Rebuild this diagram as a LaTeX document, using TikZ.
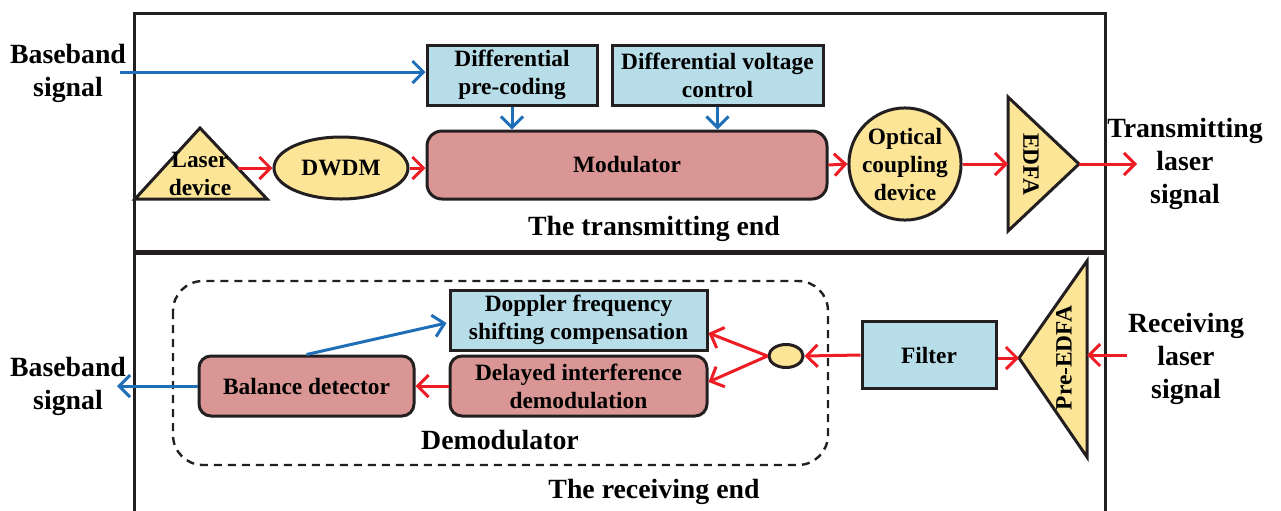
\documentclass[tikz,border=0pt]{standalone}
\usepackage{fontspec}
\setmainfont{Liberation Serif}
\usetikzlibrary{arrows.meta,calc,shapes.geometric}
\definecolor{lblue}{HTML}{B7DDE8}
\definecolor{modpink}{HTML}{D99694}
\definecolor{yel}{HTML}{FCE597}
\definecolor{ablue}{HTML}{1F6EB8}
\definecolor{ared}{HTML}{EE1C25}
\definecolor{edge}{HTML}{231F20}
\begin{document}
\begin{tikzpicture}[x=0.5pt,y=-0.5pt,
  frame/.style={draw=edge,line width=1.5pt},
  box/.style={draw=edge,line width=1.5pt,fill=lblue,inner sep=0pt,align=center,
    minimum height=30pt,font=\fontsize{11.7}{14}\selectfont\bfseries},
  rbox/.style={box,fill=modpink,rounded corners=6pt},
  ell/.style={draw=edge,line width=1.5pt,fill=yel,ellipse,inner sep=0pt,align=center,
    font=\fontsize{11.7}{14}\selectfont\bfseries},
  circ/.style={ell,circle},
  tri/.style={draw=edge,line width=1.5pt,fill=yel,line join=miter},
  txt/.style={inner sep=0pt,align=center,font=\fontsize{11.7}{14}\selectfont\bfseries},
  lbl/.style={inner sep=0pt,align=center,font=\fontsize{13.9}{16.5}\selectfont\bfseries},
  rarr/.style={draw=ared,line width=1.5pt,-{Straight Barb[length=5.5pt,width=11pt]}},
  barr/.style={draw=ablue,line width=1.5pt,-{Straight Barb[length=5.5pt,width=11pt]}},
  dashbox/.style={draw=edge,line width=1.2pt,dash pattern=on 4pt off 3pt,rounded corners=15pt}]
\useasboundingbox (0,0) rectangle (1281,510);
% frames
\draw[frame] (134,13) rectangle (1105,251);
\draw[frame] (134,520) -- (134,253) -- (1105,253) -- (1105,520);
% ---------- transmitting end ----------
\node[lbl] (bbin) at (68,73) {Baseband\\signal};
\coordinate (bbstart) at (120,72);
\node[box,minimum width=85pt] (pre) at (512,75) {Differential\\pre-coding};
\node[box,minimum width=105.5pt] (volt) at (717.5,75) {Differential voltage\\control};
\node[rbox,rounded corners=7.5pt,minimum width=200pt,minimum height=34pt] (mod) at (627,165) {Modulator};
\draw[tri] (135,199) -- (200,128) -- (267,199) -- cycle;
\node[txt] (laser) at (200,174) {Laser\\device};
\coordinate (laserout) at (238,168);
\node[ell,minimum width=67pt,minimum height=31pt] (dwdm) at (341,168) {DWDM};
\node[circ,minimum size=50.5pt] (occ) at (905,164) {Optical\\coupling\\device};
\draw[tri] (1008,97) -- (1079,164) -- (1008,231) -- cycle;
\node[txt,rotate=-90] (edfa) at (1031,164) {EDFA};
\coordinate (edfain) at (1008,164);
\coordinate (edfaout) at (1079,164);
\coordinate (txend) at (1137,164);
\node[lbl] (txsig) at (1185,164) {Transmitting\\laser\\signal};
\node[lbl] (txlabel) at (654,229) {The transmitting end};
\draw[barr] (bbstart) -- (pre.west |- bbstart);
\draw[barr] (pre.south) -- (pre.south |- mod.north);
\draw[barr] (volt.south) -- (volt.south |- mod.north);
\draw[rarr] (laserout) -- (dwdm.west);
\draw[rarr] (dwdm.east) -- (mod.west |- dwdm.east);
\draw[rarr] (mod.east) -- (occ.west);
\draw[rarr] (occ.east) -- (edfain);
\draw[rarr] (edfaout) -- (txend);
% ---------- receiving end ----------
\draw[dashbox] (173,281) rectangle (828,465);
\node[box,minimum width=128.5pt] (dop) at (578.5,320) {Doppler frequency\\shifting compensation};
\node[rbox,minimum width=128.5pt] (del) at (578.5,386) {Delayed interference\\demodulation};
\node[rbox,minimum width=107.5pt] (bal) at (306.5,386) {Balance detector};
\node[ell,minimum width=17pt,minimum height=11.5pt] (split) at (786,356) {};
\node[box,minimum width=67pt,minimum height=33.5pt] (filt) at (929,355) {Filter};
\draw[tri] (1019,358) -- (1087,261) -- (1087,457) -- cycle;
\node[txt,rotate=90] (pedfa) at (1064,358) {Pre-EDFA};
\coordinate (pein) at (1019,358);
\coordinate (peright) at (1087,355);
\coordinate (rxstart) at (1127,355);
\node[lbl] (rxsig) at (1186,359) {Receiving\\laser\\signal};
\node[lbl] (bbout) at (68,386) {Baseband\\signal};
\coordinate (bboutend) at (117,386);
\node[lbl] (demod) at (500,440) {Demodulator};
\node[lbl] (rxlabel) at (654,492) {The receiving end};
\draw[rarr] (rxstart) -- (peright);
\draw[rarr] (filt.east |- pein) -- (pein);
\draw[rarr] (filt.west) -- (split.east);
\draw[rarr] (split.west) -- ($(dop.east)+(0,13)$);
\draw[rarr] (split.west) -- ($(del.east)+(0,-4)$);
\draw[rarr] (del.west) -- (bal.east);
\draw[barr] (bal.north) -- ($(dop.west)+(-2,3)$);
\draw[barr] (bal.west) -- (bboutend);
\end{tikzpicture}
\end{document}
